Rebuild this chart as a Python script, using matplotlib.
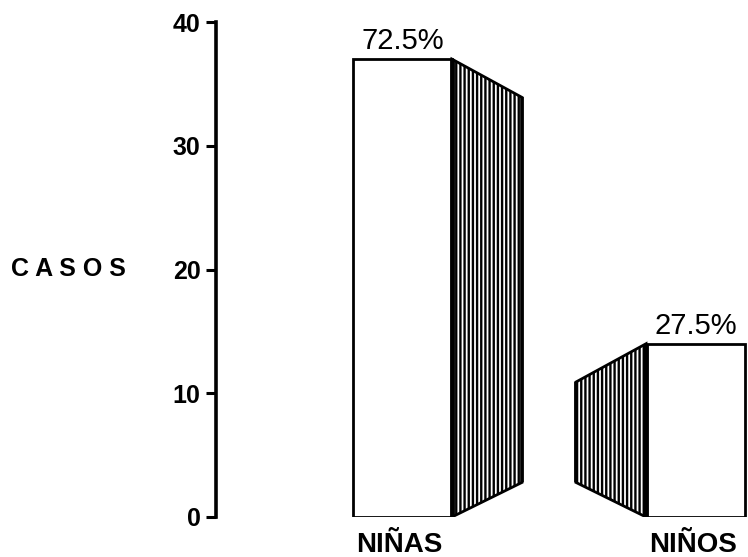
import matplotlib
matplotlib.use("Agg")
import matplotlib.pyplot as plt
from matplotlib.patches import Polygon
from matplotlib.transforms import blended_transform_factory, offset_copy

# Data: number of cases by sex
categorias = ["NIÑAS", "NIÑOS"]
casos = [37, 14]
porcentajes = ["72.5%", "27.5%"]
y_ticks = [0, 10, 20, 30, 40]

# Layout of the pseudo-3D blocks (x in axis units)
x_frente = [2.575, 8.083]     # left edge of each front face
ancho = 1.86                  # width of a front face
lado = [1, -1]                # side face drawn to the right / to the left
profundidad = 1.32            # horizontal depth of the side face
caida_sup = 3.1               # perspective drop of the far top corner
subida_inf = 2.8              # perspective rise of the far bottom corner

plt.rcParams["hatch.linewidth"] = 1.7
plt.rcParams["hatch.color"] = "black"

fig = plt.figure(figsize=(7.48, 5.57), dpi=100)
fig.patch.set_facecolor("white")
ax = fig.add_axes([216 / 748, 40 / 557, 532 / 748, 495 / 557])
ax.set_xlim(0, 10)
ax.set_ylim(0, 40)

font = "Liberation Sans"

# Front faces
ax.bar(x_frente, casos, width=ancho, align="edge", color="white",
       edgecolor="black", linewidth=2.0, zorder=3)

# Hatched side faces in perspective
for x0, h, d in zip(x_frente, casos, lado):
    if d > 0:
        xn = x0 + ancho
    else:
        xn = x0
    xf = xn + d * profundidad
    pts = [(xn, 0), (xn, h), (xf, h - caida_sup), (xf, subida_inf)]
    ax.add_patch(Polygon(pts, closed=True, facecolor="white",
                         edgecolor="black", linewidth=2.0, hatch="||||",
                         zorder=2))
    ax.plot([xn, xn], [0, h], color="black", linewidth=3.5,
            solid_capstyle="butt", zorder=4)
    ax.plot([xf, xf], [subida_inf, h - caida_sup], color="black",
            linewidth=2.6, solid_capstyle="butt", zorder=4)

# Percentage labels above each block
for x0, h, p in zip(x_frente, casos, porcentajes):
    ax.annotate(p, (x0 + ancho / 2, h), xytext=(0, 3),
                textcoords="offset points", ha="center", va="bottom",
                fontsize=21, family=font, zorder=5)

# Category names under the blocks
trans = offset_copy(blended_transform_factory(ax.transData, ax.transAxes),
                    fig=fig, x=2, y=-11, units="points")
for x0, c in zip(x_frente, categorias):
    ax.text(x0, 0, c, transform=trans, ha="left", va="top",
            fontsize=20, fontweight="bold", family=font, clip_on=False)

# Axis styling
for s in ["top", "right", "bottom"]:
    ax.spines[s].set_visible(False)
ax.spines["left"].set_linewidth(2.6)
ax.set_xticks([])
ax.set_yticks(y_ticks)
ax.set_yticklabels([str(t) for t in y_ticks], fontsize=18,
                   fontweight="bold", family=font)
ax.tick_params(axis="y", length=7, width=2.2, pad=4)

ax.set_ylabel("C A S O S", rotation=0, fontsize=18, fontweight="bold",
              family=font, va="center", ha="left")
ax.yaxis.set_label_coords(-0.385, 0.5)

fig.savefig("out.png", dpi=100, facecolor="white")
